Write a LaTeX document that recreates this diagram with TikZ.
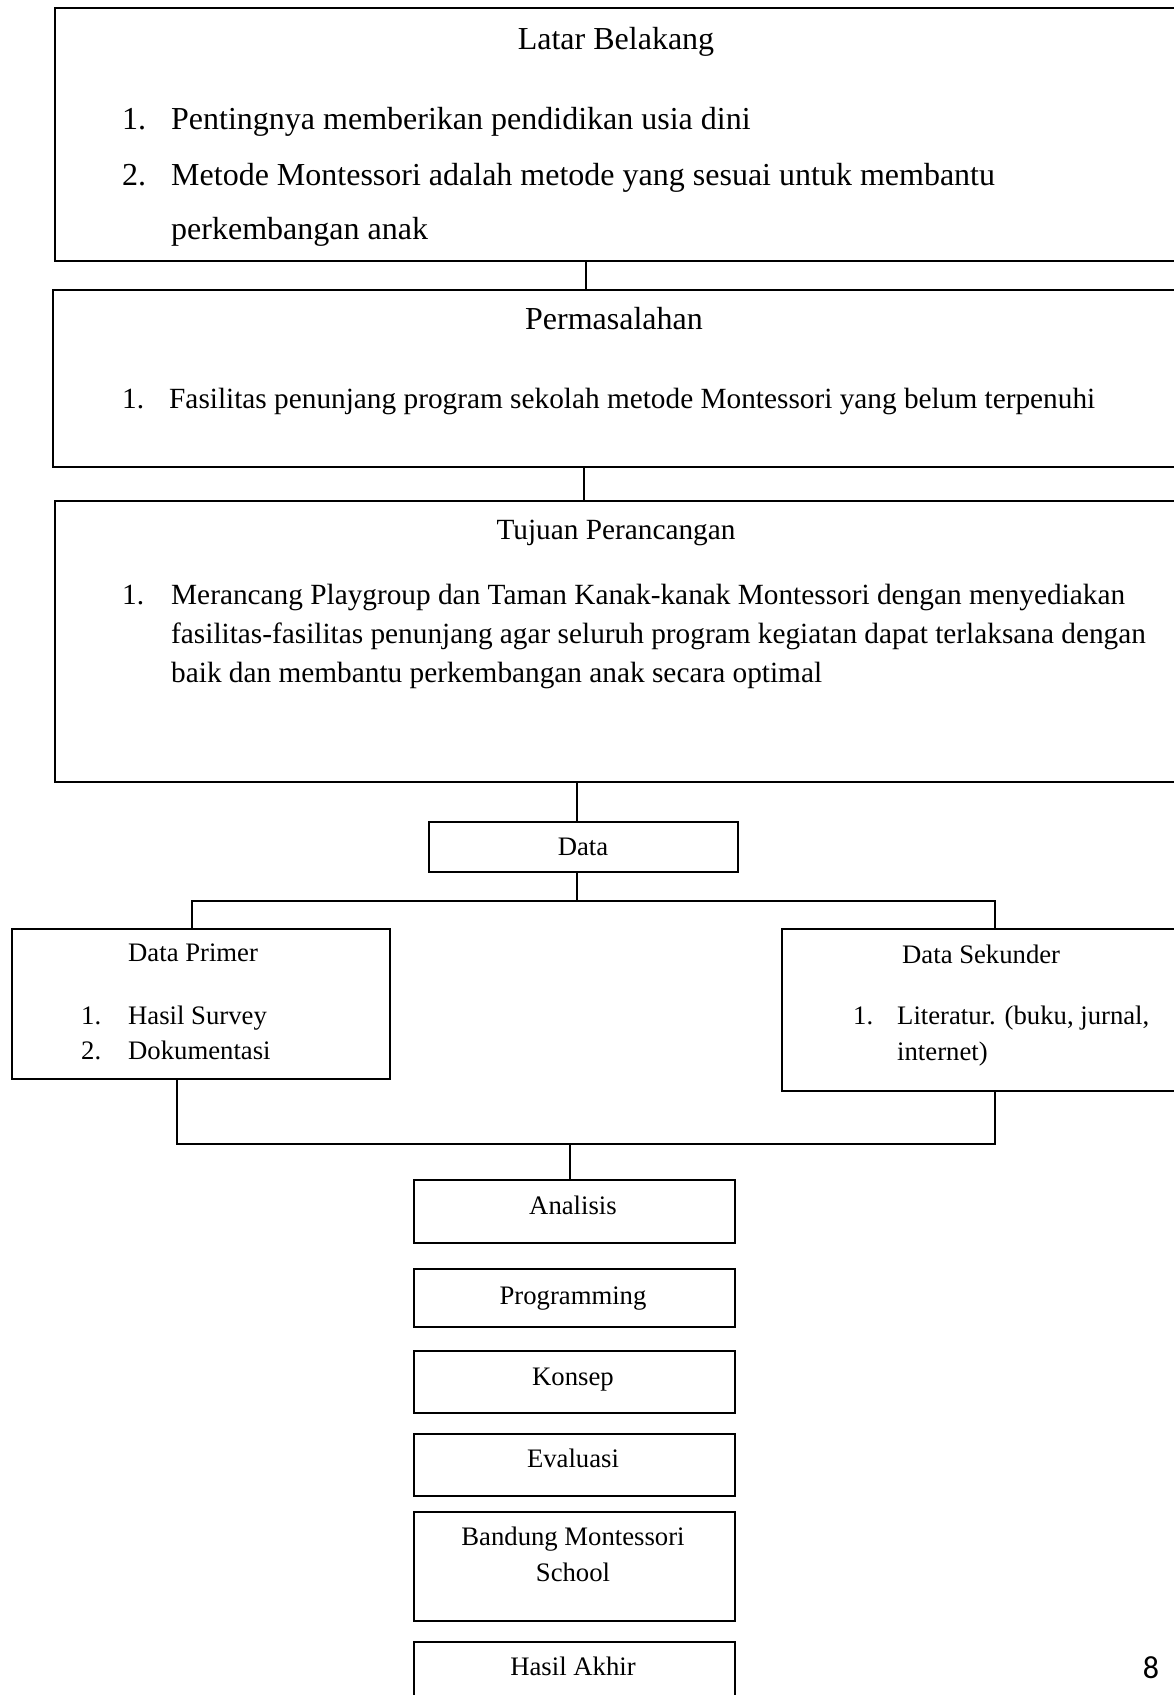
\documentclass[tikz,border=0pt]{standalone}
\usepackage{fontspec}
\setmainfont{Liberation Serif}
\newfontfamily\pagefont{Carlito}
\begin{document}
\begin{tikzpicture}[x=1pt,y=-1pt,
  box/.style={draw, line width=1.6pt, rectangle, inner sep=0pt, anchor=north west},
  conn/.style={line width=1.6pt},
  bigl/.style={font=\fontsize{32}{39}\selectfont, inner sep=0pt, anchor=base west},
  bigc/.style={font=\fontsize{32}{39}\selectfont, inner sep=0pt, anchor=base},
  medl/.style={font=\fontsize{29.3}{35}\selectfont, inner sep=0pt, anchor=base west},
  medc/.style={font=\fontsize{29.3}{35}\selectfont, inner sep=0pt, anchor=base},
  smll/.style={font=\fontsize{26.7}{31}\selectfont, inner sep=0pt, anchor=base west},
  smlc/.style={font=\fontsize{26.7}{31}\selectfont, inner sep=0pt, anchor=base}]
\useasboundingbox (0,0) rectangle (1174,1695);
\clip (0,0) rectangle (1174,1695);
% boxes
\node[box, minimum width=1146pt, minimum height=253pt] (b1) at (54,7) {};
\node[box, minimum width=1148pt, minimum height=177pt] (b2) at (52,289) {};
\node[box, minimum width=1146pt, minimum height=281pt] (b3) at (54,500) {};
\node[box, minimum width=309pt, minimum height=50pt] (data) at (428,821) {};
\node[box, minimum width=378pt, minimum height=150pt] (prim) at (11,928) {};
\node[box, minimum width=419pt, minimum height=162pt] (sek) at (781,928) {};
\node[box, minimum width=321pt, minimum height=63pt] (ana) at (413,1179) {};
\node[box, minimum width=321pt, minimum height=58pt] (prog) at (413,1268) {};
\node[box, minimum width=321pt, minimum height=62pt] (kon) at (413,1350) {};
\node[box, minimum width=321pt, minimum height=62pt] (eva) at (413,1433) {};
\node[box, minimum width=321pt, minimum height=109pt] (ban) at (413,1511) {};
\node[box, minimum width=321pt, minimum height=80pt] (has) at (413,1641) {};
% texts box 1
\node[bigc] (t1a) at (616,49) {Latar Belakang};
\node[bigl] (t1b) at (122,129) {1.};
\node[bigl] (t1c) at (171,129) {Pentingnya memberikan pendidikan usia dini};
\node[bigl] (t1d) at (122,185) {2.};
\node[bigl] (t1e) at (171,185) {Metode Montessori adalah metode yang sesuai untuk membantu};
\node[bigl] (t1f) at (171,239) {perkembangan anak};
% texts box 2
\node[bigc] (t2a) at (614,329) {Permasalahan};
\node[medl] (t2b) at (122,408) {1.};
\node[medl] (t2c) at (169,408) {Fasilitas penunjang program sekolah metode Montessori yang belum terpenuhi};
% texts box 3
\node[medc] (t3a) at (616,539) {Tujuan Perancangan};
\node[medl] (t3b) at (122,604) {1.};
\node[medl] (t3c) at (171,604) {Merancang Playgroup dan Taman Kanak-kanak Montessori dengan menyediakan};
\node[medl] (t3d) at (171,643) {fasilitas-fasilitas penunjang agar seluruh program kegiatan dapat terlaksana dengan};
\node[medl] (t3e) at (171,682) {baik dan membantu perkembangan anak secara optimal};
% data
\node[smlc] (td) at (583,855) {Data};
\node[smll] (tp1) at (128,961) {Data Primer};
\node[smll] (tp2) at (81,1024) {1.};
\node[smll] (tp3) at (128,1024) {Hasil Survey};
\node[smll] (tp4) at (81,1059) {2.};
\node[smll] (tp5) at (128,1059) {Dokumentasi};
\node[smll] (ts1) at (902,963) {Data Sekunder};
\node[smll] (ts2) at (853,1024) {1.};
\node[smll] (ts3) at (897,1024) {Literatur. (buku, jurnal,};
\node[smll] (ts4) at (897,1060) {internet)};
% steps
\node[smlc] (ta) at (573,1214) {Analisis};
\node[smlc] (tpr) at (573,1304) {Programming};
\node[smlc] (tk) at (573,1385) {Konsep};
\node[smlc] (te) at (573,1467) {Evaluasi};
\node[smlc] (tb1) at (573,1545) {Bandung Montessori};
\node[smlc] (tb2) at (573,1581) {School};
\node[smlc] (th) at (573,1675) {Hasil Akhir};
\node[font=\pagefont\fontsize{32}{38}\selectfont, inner sep=0pt, anchor=base] (pg) at (1151,1678) {8};
% connector coordinates
\coordinate (x1) at (586,0);
\coordinate (x2) at (584,0);
\coordinate (x3) at (577,0);
\coordinate (xl) at (192,0);
\coordinate (xr) at (995,0);
\coordinate (xpl) at (177,0);
\coordinate (xa) at (570,0);
\coordinate (br) at (0,901);
\coordinate (bj) at (0,1144);
\draw[conn] (b1.south -| x1) -- (b2.north -| x1);
\draw[conn] (b2.south -| x2) -- (b3.north -| x2);
\draw[conn] (b3.south -| x3) -- (data.north -| x3);
\draw[conn] (data.south -| x3) -- (br -| x3);
\draw[conn] (prim.north -| xl) -- (br -| xl) -- (br -| xr) -- (sek.north -| xr);
\draw[conn] (prim.south -| xpl) -- (bj -| xpl) -- (bj -| xr) -- (sek.south -| xr);
\draw[conn] (bj -| xa) -- (ana.north -| xa);
\end{tikzpicture}
\end{document}
